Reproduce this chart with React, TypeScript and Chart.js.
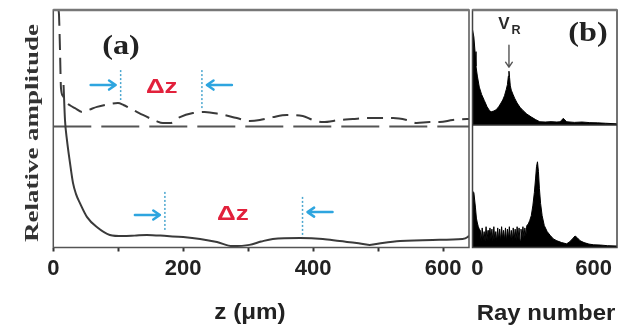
import React, { useEffect, useRef } from "react";
import { Chart, registerables } from "chart.js";

Chart.register(...registerables);

// ---------- Panel (a) data ----------
const zDashed = [8, 8.8, 10.3, 11.8, 14.9, 19.5, 26, 33.4, 44.2, 55, 67.2, 87.2, 99.5, 108, 117.4, 128, 138, 148, 158, 168.8, 180, 195, 215, 233, 256, 282.6, 302.6, 318, 338, 359.5, 384, 399.5, 415, 441, 461, 482.6, 503, 523, 544, 559.5, 579.5, 595, 615, 636.5, 640];
const ampDashed = [1.0, 0.979, 0.832, 0.672, 0.638, 0.613, 0.598, 0.587, 0.571, 0.58, 0.592, 0.604, 0.608, 0.6, 0.587, 0.572, 0.558, 0.545, 0.533, 0.524, 0.524, 0.549, 0.566, 0.571, 0.562, 0.545, 0.533, 0.537, 0.549, 0.558, 0.554, 0.537, 0.528, 0.537, 0.541, 0.545, 0.545, 0.545, 0.537, 0.524, 0.528, 0.528, 0.537, 0.541, 0.541];

const zSolid = [15.8, 18, 21, 25.7, 30.3, 35, 41, 52, 67, 87, 107, 125, 144, 175, 200, 226, 252, 276, 302, 320, 338, 380, 415, 441, 467, 487, 507, 534, 584, 630, 638, 640];
const ampSolid = [0.684, 0.537, 0.453, 0.356, 0.272, 0.225, 0.187, 0.128, 0.086, 0.053, 0.048, 0.05, 0.053, 0.048, 0.044, 0.036, 0.023, 0.006, 0.011, 0.025, 0.036, 0.04, 0.036, 0.027, 0.019, 0.011, 0.019, 0.027, 0.032, 0.036, 0.044, 0.05];

const baselineLevel = 0.509;
const zMin = 0;
const zMax = 640;
const zTicks = [0, 100, 200, 300, 400, 500, 600];
const zTickLabels = ["0", "", "200", "", "400", "", "600"];

// Δz markers
const markerZ = [103.7, 228.8, 171.8, 383.7];
const markerFrom = [0.621, 0.579, 0.074, 0.044];
const markerTo = [0.747, 0.747, 0.234, 0.213];
const arrowAmp = [0.684, 0.684, 0.137, 0.149];
const arrowDir = [1, -1, 1, -1];
const dzLabelZ = [167, 276.5];
const dzLabelAmp = [0.675, 0.137];

// ---------- Panel (b) data ----------
const rayTop = [-25, -18, -12, -7, 0, 10, 22, 36, 50, 62, 71, 85, 97, 110, 122, 131, 140, 149, 155, 160, 163, 166, 170, 175, 184, 192, 205, 220, 235, 255, 279, 300, 322, 350, 380, 410, 426, 435, 443, 452, 461, 500, 540, 580, 620, 660, 720];
const specTop = [1.78, 1.72, 1.6, 1.48, 1.4, 1.31, 1.25, 1.2, 1.15, 1.12, 1.108, 1.115, 1.125, 1.15, 1.18, 1.205, 1.24, 1.29, 1.33, 1.4, 1.44, 1.39, 1.32, 1.285, 1.25, 1.22, 1.18, 1.145, 1.12, 1.09, 1.065, 1.045, 1.027, 1.025, 1.028, 1.025, 1.027, 1.04, 1.055, 1.04, 1.027, 1.022, 1.025, 1.02, 1.018, 1.015, 1.01];
const topSpectrumBase = 1.0;

const rayBottom = [-25, -18, -10, -5, 0, 5, 10, 15, 20, 25, 30, 35, 40, 45, 50, 55, 60, 65, 70, 75, 80, 85, 90, 95, 100, 105, 110, 115, 120, 125, 130, 135, 140, 145, 150, 155, 160, 165, 170, 175, 180, 185, 190, 195, 200, 205, 210, 215, 220, 225, 230, 235, 240, 245, 250, 255, 262, 270, 278, 286, 294, 300, 305, 310, 315, 320, 326, 334, 345, 360, 375, 392, 410, 435, 460, 475, 490, 504, 515, 530, 550, 575, 600, 634, 670, 720];
const specBottom = [0.46, 0.45, 0.33, 0.24, 0.2, 0.17, 0.15, 0.14, 0.05, 0.16, 0.06, 0.13, 0.05, 0.17, 0.06, 0.14, 0.05, 0.16, 0.07, 0.15, 0.05, 0.17, 0.06, 0.13, 0.05, 0.16, 0.06, 0.15, 0.05, 0.17, 0.07, 0.14, 0.06, 0.16, 0.05, 0.15, 0.07, 0.17, 0.06, 0.14, 0.05, 0.16, 0.07, 0.15, 0.06, 0.17, 0.07, 0.16, 0.06, 0.15, 0.08, 0.17, 0.08, 0.16, 0.09, 0.18, 0.19, 0.22, 0.26, 0.34, 0.45, 0.56, 0.66, 0.7, 0.62, 0.48, 0.36, 0.26, 0.18, 0.13, 0.1, 0.07, 0.055, 0.04, 0.03, 0.045, 0.07, 0.094, 0.08, 0.055, 0.04, 0.028, 0.022, 0.02, 0.015, 0.012];

const rayMin = -25;
const rayMax = 720;
const rayTicks = [0, 600];
const rayTickLabels = ["0", "600"];
const vrRay = 163;
const vrArrowFrom = 1.653;
const vrArrowTo = 1.473;

// ---------- styles ----------
const SANS = "'Liberation Sans', Arial, sans-serif";
const SERIF = "'Liberation Serif', 'Times New Roman', serif";
const BLUE = "#2ea5df";
const DOT_BLUE = "#4aa6cf";
const RED = "#e2213c";
const INK = "#222";

function drawText(ctx: CanvasRenderingContext2D, text: string, x: number, y: number, font: string, color: string, sx = 1, sy = 1, rot = 0, align: CanvasTextAlign = "center", baseline: CanvasTextBaseline = "middle") {
  ctx.save();
  ctx.translate(x, y);
  if (rot) ctx.rotate(rot);
  ctx.scale(sx, sy);
  ctx.font = font;
  ctx.fillStyle = color;
  ctx.textAlign = align;
  ctx.textBaseline = baseline;
  ctx.fillText(text, 0, 0);
  ctx.restore();
}

function drawArrow(ctx: CanvasRenderingContext2D, x1: number, y1: number, x2: number, y2: number, color: string, width: number, head: number) {
  ctx.save();
  ctx.strokeStyle = color;
  ctx.lineWidth = width;
  ctx.lineCap = "round";
  ctx.lineJoin = "round";
  ctx.beginPath();
  ctx.moveTo(x1, y1);
  ctx.lineTo(x2, y2);
  const ang = Math.atan2(y2 - y1, x2 - x1);
  ctx.moveTo(x2 - head * Math.cos(ang - 0.6), y2 - head * Math.sin(ang - 0.6));
  ctx.lineTo(x2, y2);
  ctx.lineTo(x2 - head * Math.cos(ang + 0.6), y2 - head * Math.sin(ang + 0.6));
  ctx.stroke();
  ctx.restore();
}

const panelAPlugin = {
  id: "panelA",
  afterDatasetsDraw(chart: any) {
    const { ctx, chartArea: a, scales } = chart;
    const xs = scales.x;
    const ys = scales.y;
    ctx.save();
    ctx.strokeStyle = "#555";
    ctx.lineWidth = 1.5;
    ctx.strokeRect(a.left, a.top, a.right - a.left, a.bottom - a.top);
    ctx.strokeStyle = "#777";
    ctx.lineWidth = 2.5;
    ctx.beginPath();
    ctx.moveTo(a.left, a.top);
    ctx.lineTo(a.right, a.top);
    ctx.stroke();
    for (let i = 0; i < markerZ.length; i++) {
      const px = xs.getPixelForValue(markerZ[i]);
      ctx.save();
      ctx.strokeStyle = DOT_BLUE;
      ctx.lineWidth = 1.5;
      ctx.setLineDash([2, 2]);
      ctx.beginPath();
      ctx.moveTo(px, ys.getPixelForValue(markerTo[i]));
      ctx.lineTo(px, ys.getPixelForValue(markerFrom[i]));
      ctx.stroke();
      ctx.restore();
      const ay = ys.getPixelForValue(arrowAmp[i]);
      const d = arrowDir[i];
      const tip = px - d * 5;
      const tail = tip - d * 25;
      drawArrow(ctx, tail, ay, tip, ay, BLUE, 2.5, 8);
    }
    for (let i = 0; i < dzLabelZ.length; i++) {
      drawText(ctx, "Δz", xs.getPixelForValue(dzLabelZ[i]), ys.getPixelForValue(dzLabelAmp[i]), `bold 20px ${SANS}`, RED, 1.3, 1);
    }
    drawText(ctx, "(a)", 121, 47, `bold 28px ${SERIF}`, INK, 1.15, 1);
    ctx.font = `bold 19px ${SERIF}`;
    const w = ctx.measureText("Relative amplitude").width;
    drawText(ctx, "Relative amplitude", 33, 133, `bold 19px ${SERIF}`, "#333", 218 / w, 1, -Math.PI / 2);
    drawText(ctx, "z (μm)", 250, 319, `bold 22px ${SANS}`, INK, 1.1, 1, 0, "center", "alphabetic");
    ctx.restore();
  },
};

const panelBPlugin = {
  id: "panelB",
  afterDatasetsDraw(chart: any) {
    const { ctx, chartArea: a, scales } = chart;
    const xs = scales.x;
    const ys = scales.y;
    ctx.save();
    ctx.strokeStyle = "#444";
    ctx.lineWidth = 1.5;
    ctx.strokeRect(a.left, a.top, a.right - a.left, a.bottom - a.top);
    ctx.strokeStyle = "#777";
    ctx.lineWidth = 2.5;
    ctx.beginPath();
    ctx.moveTo(a.left, a.top);
    ctx.lineTo(a.right, a.top);
    ctx.stroke();
    const dy = ys.getPixelForValue(topSpectrumBase);
    ctx.strokeStyle = "#333";
    ctx.lineWidth = 1.5;
    ctx.beginPath();
    ctx.moveTo(a.left, dy);
    ctx.lineTo(a.right, dy);
    ctx.stroke();
    const vx = xs.getPixelForValue(vrRay);
    drawArrow(ctx, vx, ys.getPixelForValue(vrArrowFrom), vx, ys.getPixelForValue(vrArrowTo), "#555", 1.4, 6);
    drawText(ctx, "V", vx - 5, 24, `bold 17px ${SANS}`, "#2a2a2a", 1.0, 1);
    drawText(ctx, "R", vx + 7, 31, `bold 12px ${SANS}`, "#2a2a2a", 1.05, 1);
    drawText(ctx, "(b)", 588 - 441, 34, `bold 28px ${SERIF}`, INK, 1.15, 1);
    drawText(ctx, "Ray number", 546 - 441, 320, `bold 22px ${SANS}`, INK, 1.09, 1, 0, "center", "alphabetic");
    ctx.restore();
  },
};

const tickFont = { family: SANS, size: 22, weight: "bold" as const };

export default function App() {
  const refA = useRef<HTMLCanvasElement>(null);
  const refB = useRef<HTMLCanvasElement>(null);

  useEffect(() => {
    const chartA = new Chart(refA.current as HTMLCanvasElement, {
      type: "line",
      data: {
        datasets: [
          {
            data: zSolid.map((z, i) => ({ x: z, y: ampSolid[i] })),
            borderColor: "#3a3a3a",
            borderWidth: 2,
            pointRadius: 0,
            cubicInterpolationMode: "monotone",
          },
          {
            data: zDashed.map((z, i) => ({ x: z, y: ampDashed[i] })),
            borderColor: "#3a3a3a",
            borderWidth: 2,
            borderDash: [16, 8],
            pointRadius: 0,
            cubicInterpolationMode: "monotone",
          },
          {
            data: [
              { x: zMin, y: baselineLevel },
              { x: zMax, y: baselineLevel },
            ],
            borderColor: "#555",
            borderWidth: 2,
            borderDash: [38, 10],
            pointRadius: 0,
          },
        ],
      },
      options: {
        responsive: false,
        animation: false,
        layout: { padding: { top: 10, right: 2, left: 0, bottom: 0 } },
        plugins: { legend: { display: false }, tooltip: { enabled: false } },
        scales: {
          x: {
            type: "linear",
            min: zMin,
            max: zMax,
            afterBuildTicks: (s: any) => {
              s.ticks = zTicks.map((v) => ({ value: v }));
            },
            ticks: {
              autoSkip: false,
              maxRotation: 0,
              font: tickFont,
              color: INK,
              padding: 4,
              callback: (v: any) => zTickLabels[zTicks.indexOf(Number(v))] ?? "",
            },
            grid: { drawOnChartArea: false, drawTicks: true, tickLength: 4, tickColor: "#333", tickWidth: 2 },
            border: { display: false },
            afterFit: (s: any) => {
              s.height = 81.5;
            },
          },
          y: {
            type: "linear",
            min: 0,
            max: 1,
            ticks: { display: false },
            grid: { display: false },
            border: { display: false },
            afterFit: (s: any) => {
              s.width = 53.3;
            },
          },
        },
      } as any,
      plugins: [panelAPlugin],
    });

    const chartB = new Chart(refB.current as HTMLCanvasElement, {
      type: "line",
      data: {
        datasets: [
          {
            data: rayTop.map((r, i) => ({ x: r, y: specTop[i] })),
            borderColor: "#000",
            backgroundColor: "#000",
            borderWidth: 1,
            pointRadius: 0,
            fill: { value: topSpectrumBase },
          },
          {
            data: rayBottom.map((r, i) => ({ x: r, y: specBottom[i] })),
            borderColor: "#000",
            backgroundColor: "#000",
            borderWidth: 1,
            pointRadius: 0,
            fill: "origin",
          },
        ],
      },
      options: {
        responsive: false,
        animation: false,
        layout: { padding: { top: 10, right: 15, left: 0, bottom: 0 } },
        plugins: { legend: { display: false }, tooltip: { enabled: false } },
        scales: {
          x: {
            type: "linear",
            min: rayMin,
            max: rayMax,
            afterBuildTicks: (s: any) => {
              s.ticks = rayTicks.map((v) => ({ value: v }));
            },
            ticks: {
              autoSkip: false,
              maxRotation: 0,
              font: tickFont,
              color: INK,
              padding: 4,
              callback: (v: any) => rayTickLabels[rayTicks.indexOf(Number(v))] ?? "",
            },
            grid: { drawOnChartArea: false, drawTicks: true, tickLength: 4, tickColor: "rgba(0,0,0,0)" },
            border: { display: false },
            afterFit: (s: any) => {
              s.height = 81.5;
            },
          },
          y: {
            type: "linear",
            min: 0,
            max: 1.94,
            ticks: { display: false },
            grid: { display: false },
            border: { display: false },
            afterFit: (s: any) => {
              s.width = 31.5;
            },
          },
        },
      } as any,
      plugins: [panelBPlugin],
    });

    return () => {
      chartA.destroy();
      chartB.destroy();
    };
  }, []);

  return (
    <div style={{ position: "absolute", left: 0, top: 0, width: 632, height: 329, background: "#fff" }}>
      <canvas ref={refA} width={471} height={329} style={{ position: "absolute", left: 0, top: 0 }} />
      <canvas ref={refB} width={191} height={329} style={{ position: "absolute", left: 441, top: 0 }} />
    </div>
  );
}
